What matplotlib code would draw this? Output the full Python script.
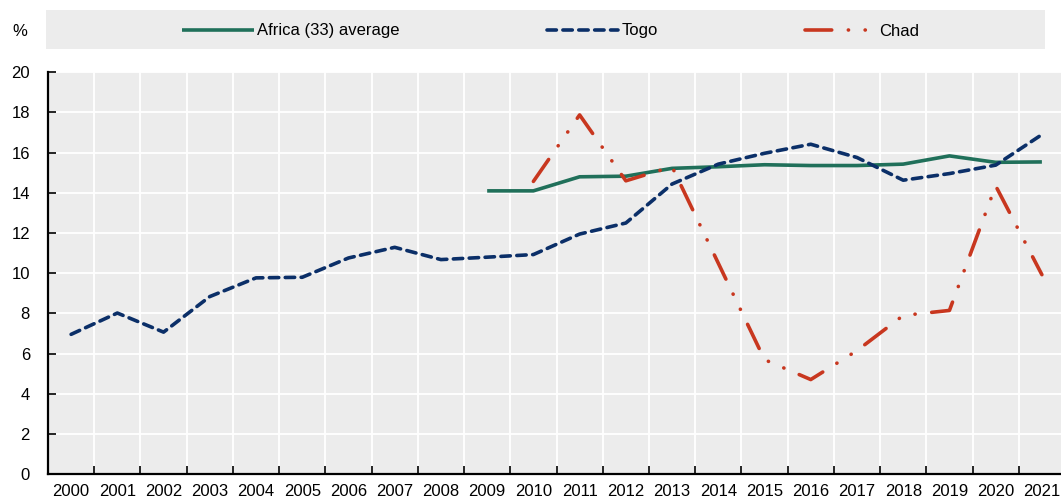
import matplotlib.pyplot as plt
import numpy as np
from matplotlib.patches import Rectangle
from matplotlib.lines import Line2D

plt.rcParams['font.family'] = ['Liberation Sans', 'DejaVu Sans']

years = [str(y) for y in range(2000, 2022)]
nan = np.nan

# values (%)
africa = [nan, nan, nan, nan, nan, nan, nan, nan, nan, 14.1, 14.1, 14.8, 14.83,
          15.22, 15.3, 15.4, 15.36, 15.36, 15.43, 15.84, 15.52, 15.54]
togo = [6.96, 8.02, 7.07, 8.84, 9.77, 9.8, 10.76, 11.29, 10.68, 10.8, 10.93, 11.95,
        12.5, 14.44, 15.43, 15.97, 16.42, 15.76, 14.63, 14.96, 15.38, 16.9]
chad = [nan, nan, nan, nan, nan, nan, nan, nan, nan, nan, 14.57, 17.88, 14.6, 15.3,
        10.5, 5.7, 4.71, 6.15, 7.9, 8.15, 14.35, 9.93]

labels = ['Africa (33) average', 'Togo', 'Chad']
colors = ['#20705a', '#0b2f68', '#c8371f']

W, H = 1061, 500
fig = plt.figure(figsize=(W / 100, H / 100), dpi=100)
ax = fig.add_axes([48 / W, 25.8 / H, 1017 / W, 401.9 / H])
ax.set_facecolor('#ececec')

x = np.arange(len(years))
lw = 2.6
togo_dash = (2.6, 1.8)
chad_dash = (7.4, 4.6, 0.05, 4.6, 0.05, 4.6)
ax.plot(x, africa, color=colors[0], lw=lw, solid_capstyle='butt', zorder=3)
ax.plot(x, togo, color=colors[1], lw=lw, dashes=togo_dash,
        dash_capstyle='round', zorder=4)
ax.plot(x, chad, color=colors[2], lw=lw, dashes=chad_dash,
        dash_capstyle='round', zorder=5)

ax.set_xlim(-0.5, len(years) - 0.5)
ax.set_ylim(0, 20)
ax.set_yticks(np.arange(0, 21, 2))

# category boundaries carry the ticks and grid, centres carry the labels
ax.set_xticks(np.arange(len(years) + 1) - 0.5)
ax.set_xticklabels([])
ax.set_xticks(x, minor=True)
ax.set_xticklabels(years, minor=True)
ax.tick_params(axis='x', which='major', direction='in', length=5.5, width=1.2)
ax.tick_params(axis='x', which='minor', length=0, pad=7, labelsize=12)
ax.tick_params(axis='y', direction='in', length=5.5, width=1.2, pad=13,
               labelsize=12)

ax.grid(True, which='major', color='white', lw=1.3)
ax.set_axisbelow(True)
for s in ['top', 'right']:
    ax.spines[s].set_visible(False)
for s in ['left', 'bottom']:
    ax.spines[s].set_linewidth(1.6)
    ax.spines[s].set_color('black')

# legend strip
fig.patches.append(Rectangle((46 / W, 1 - 49 / H), 999 / W, 39 / H,
                             transform=fig.transFigure, facecolor='#ececec',
                             edgecolor='none', zorder=0))
handles = [Line2D([], [], color=colors[0], lw=lw, solid_capstyle='butt'),
           Line2D([], [], color=colors[1], lw=lw, dashes=togo_dash,
                  dash_capstyle='round'),
           Line2D([], [], color=colors[2], lw=lw, dashes=chad_dash,
                  dash_capstyle='round')]
fig.legend(handles, labels, loc='center', bbox_to_anchor=(551 / W, 1 - 31 / H),
           ncol=3, frameon=False, fontsize=12, handlelength=4.3,
           handletextpad=0.2, columnspacing=8.8)

fig.text(20 / W, 1 - 32 / H, '%', fontsize=12, ha='center', va='center')

fig.savefig('out.png', dpi=100)
